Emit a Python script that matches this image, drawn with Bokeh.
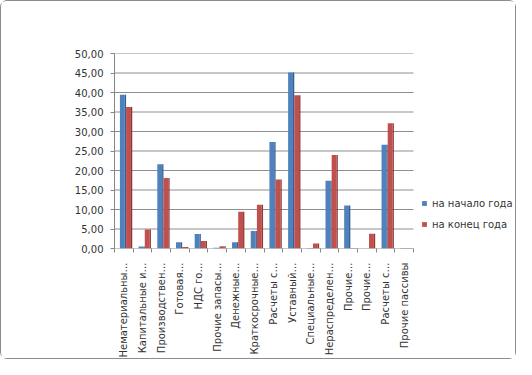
from bokeh.plotting import figure
from bokeh.models import Range1d, FixedTicker, Legend, LegendItem
from bokeh.embed import file_html
from bokeh.resources import INLINE
import math

categories = ["Нематериальны…", "Капитальные и…", "Производствен…", "Готовая…", "НДС го…",
              "Прочие запасы…", "Денежные…", "Краткосрочные…", "Расчеты с…", "Уставный…",
              "Специальные…", "Нераспределен…", "Прочие…", "Прочие…", "Расчеты с…", "Прочие пассивы"]
start_year = [39.4, 0.5, 21.6, 1.6, 3.7, 0.2, 1.6, 4.5, 27.3, 45.1, 0.1, 17.4, 11.0, 0.0, 26.6, 0.1]
end_year = [36.3, 4.9, 18.1, 0.4, 1.9, 0.6, 9.4, 11.2, 17.7, 39.3, 1.3, 24.0, 0.1, 3.8, 32.1, 0.1]
series_names = ["на начало года", "на конец года"]
y_ticks = [0, 5, 10, 15, 20, 25, 30, 35, 40, 45, 50]

FONT = "DejaVu Sans"
TXT = "#333333"

n = len(categories)
left_px, right_border, plot_px = 113, 2, 299
frame_px = 516 - left_px - right_border
x_end = -0.5 + n * frame_px / plot_px  # extra room inside frame for the legend

p = figure(width=516, height=359, output_backend="svg", toolbar_location=None,
           x_range=Range1d(-0.5, x_end), y_range=Range1d(0, 50),
           min_border_left=left_px, min_border_right=right_border, min_border_top=52, min_border_bottom=109)
p.styles = {"border": "1px solid #8c8c8c", "border-radius": "7px", "box-sizing": "border-box"}
p.outline_line_color = None
p.background_fill_color = "white"

# gridlines limited to the category area
p.segment(x0=[-0.5] * len(y_ticks), x1=[n - 0.5] * len(y_ticks), y0=y_ticks, y1=y_ticks,
          line_color="#8f8f8f", line_width=1)

idx = list(range(n))
front_w = 0.26
side_w = 0.07
blue_x = [i - 0.08 for i in idx]
blue_side = [i + 0.085 for i in idx]
red_x = [i + 0.25 for i in idx]
red_side = [i + 0.415 for i in idx]

r_blue = p.vbar(x=blue_x, top=start_year, width=front_w, fill_color="#4F81BD", line_color=None)
p.vbar(x=blue_side, top=start_year, width=side_w, fill_color="#375E8E", line_color=None)
r_red = p.vbar(x=red_x, top=end_year, width=front_w, fill_color="#C0504D", line_color=None)
p.vbar(x=red_side, top=end_year, width=side_w, fill_color="#8E3A37", line_color=None)

# axes
p.yaxis.ticker = FixedTicker(ticks=y_ticks)
p.yaxis.major_label_overrides = {v: f"{v:.2f}".replace(".", ",") for v in y_ticks}
p.yaxis.major_label_text_font = FONT
p.yaxis.major_label_text_font_size = "10px"
p.yaxis.major_label_text_color = TXT
p.yaxis.axis_line_color = "#868686"
p.yaxis.major_tick_line_color = "#868686"
p.yaxis.major_tick_out = 4
p.yaxis.major_tick_in = 0
p.yaxis.minor_tick_line_color = None
p.yaxis.major_label_standoff = 7

p.xaxis.ticker = FixedTicker(ticks=idx, minor_ticks=[i - 0.5 for i in idx] + [n - 0.5])
p.xaxis.major_label_overrides = {i: c for i, c in enumerate(categories)}
p.xaxis.major_label_orientation = math.pi / 2
p.xaxis.major_label_text_font = FONT
p.xaxis.major_label_text_font_size = "10px"
p.xaxis.major_label_text_color = TXT
p.xaxis.major_tick_line_color = None
p.xaxis.minor_tick_line_color = "#868686"
p.xaxis.minor_tick_out = 4
p.xaxis.minor_tick_in = 0
p.xaxis.axis_line_color = None
p.xaxis.major_label_standoff = 8

p.xgrid.grid_line_color = None
p.ygrid.grid_line_color = None

legend = Legend(items=[LegendItem(label=series_names[0], renderers=[r_blue]),
                       LegendItem(label=series_names[1], renderers=[r_red])],
                location=(420 - left_px, 18), orientation="vertical")
legend.border_line_color = None
legend.background_fill_alpha = 0
legend.padding = 0
legend.margin = 0
legend.glyph_width = 6
legend.glyph_height = 6
legend.label_height = 12
legend.spacing = 9
legend.label_standoff = 5
legend.label_text_font = FONT
legend.label_text_font_size = "10px"
legend.label_text_color = TXT
p.add_layout(legend)

open("out.html", "w").write(file_html(p, INLINE))
